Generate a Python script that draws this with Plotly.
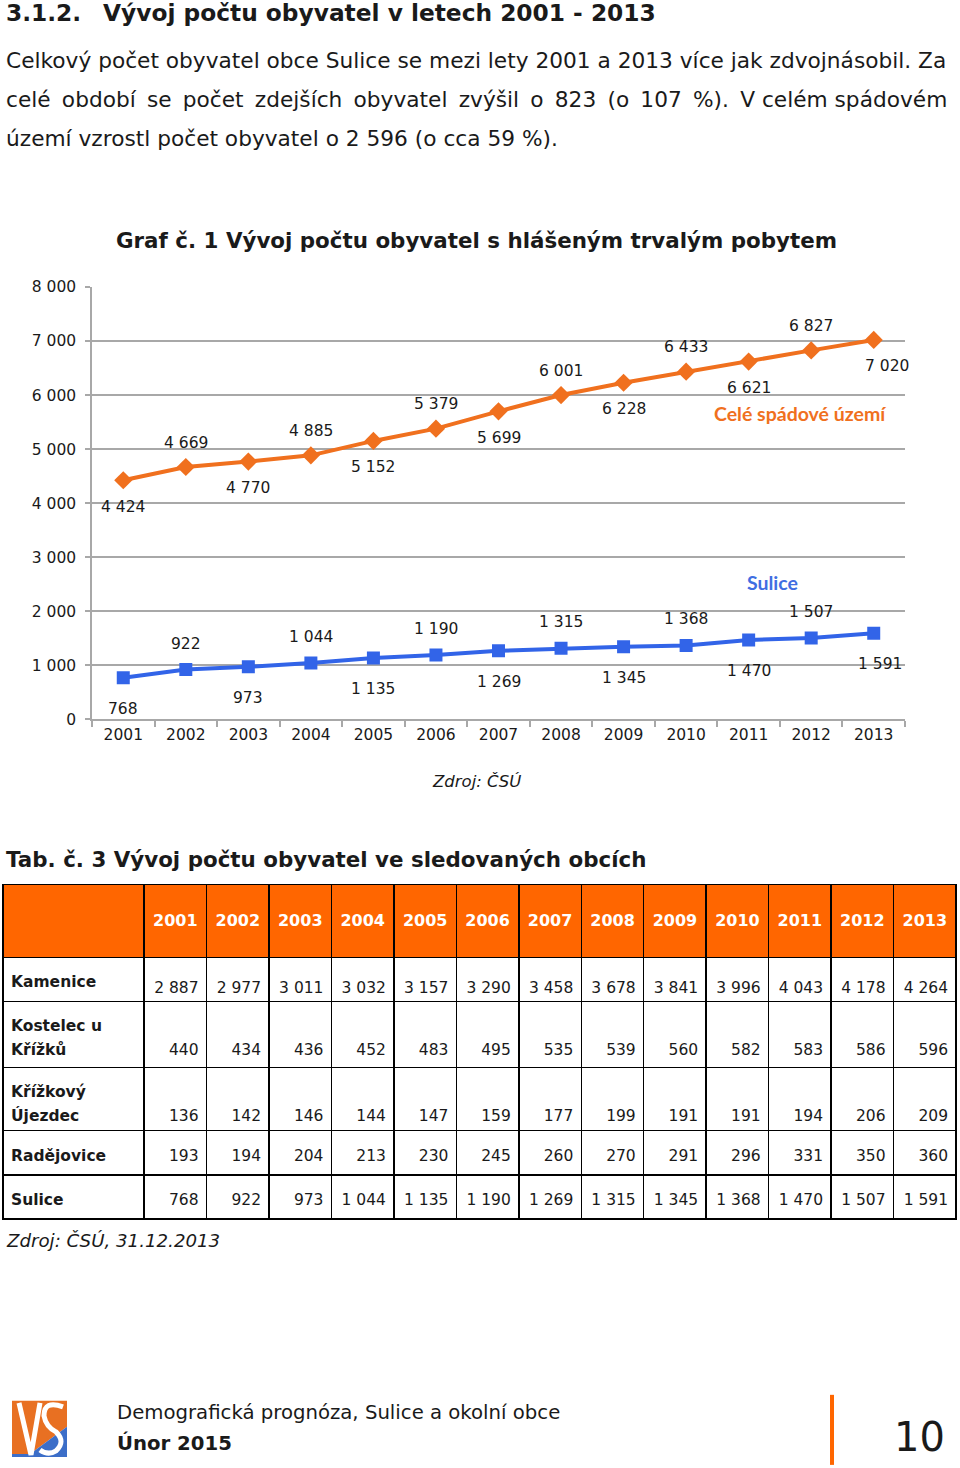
import plotly.graph_objects as go

W, H = 960, 1468

# ---------------- data ----------------
years = ["2001", "2002", "2003", "2004", "2005", "2006", "2007",
         "2008", "2009", "2010", "2011", "2012", "2013"]
spadove = [4424, 4669, 4770, 4885, 5152, 5379, 5699, 6001, 6228, 6433, 6621, 6827, 7020]
sulice = [768, 922, 973, 1044, 1135, 1190, 1269, 1315, 1345, 1368, 1470, 1507, 1591]
y_ticks = [0, 1000, 2000, 3000, 4000, 5000, 6000, 7000, 8000]

obce = ["Kamenice", "Kostelec u|Křížků", "Křížkový|Újezdec", "Radějovice", "Sulice"]
kamenice = [2887, 2977, 3011, 3032, 3157, 3290, 3458, 3678, 3841, 3996, 4043, 4178, 4264]
kostelec = [440, 434, 436, 452, 483, 495, 535, 539, 560, 582, 583, 586, 596]
krizkovy = [136, 142, 146, 144, 147, 159, 177, 199, 191, 191, 194, 206, 209]
radejovice = [193, 194, 204, 213, 230, 245, 260, 270, 291, 296, 331, 350, 360]
sulice_tab = [768, 922, 973, 1044, 1135, 1190, 1269, 1315, 1345, 1368, 1470, 1507, 1591]
table_rows = [kamenice, kostelec, krizkovy, radejovice, sulice_tab]

# ---------------- styles ----------------
FONT = "DejaVu Sans"
LBL_FONT = "Lato"
TXT = "#1a1a1a"
ORANGE = "rgb(240,112,30)"
ORANGE_HDR = "#FF6600"
BLUE = "rgb(50,100,232)"
BLUE_LBL = "rgb(64,110,226)"
GRID = "#A8A8A8"
NB = "\u00a0"


def fmt(v):
    return f"{v:,}".replace(",", NB)


def fy(y):
    # page pixel -> figure pixel (compensates page offset/scale seen in render)
    return (y - 8.2) / 0.987


def px(x):
    return x / W


def py(y):
    return 1 - fy(y) / H


fig = go.Figure()

# ---------------- chart ----------------
fig.add_trace(go.Scatter(
    x=years, y=spadove, mode="lines+markers", name="Celé spádové území",
    line=dict(color=ORANGE, width=4),
    marker=dict(symbol="diamond", size=14, color=ORANGE),
    hoverinfo="skip", showlegend=False))
fig.add_trace(go.Scatter(
    x=years, y=sulice, mode="lines+markers", name="Sulice",
    line=dict(color=BLUE, width=4),
    marker=dict(symbol="square", size=13, color=BLUE),
    hoverinfo="skip", showlegend=False))

annotations = []

# data labels (alternating below / above)
for series, up, down, last_dx in ((spadove, -24.5, 26.5, 13), (sulice, -26, 31, 6)):
    n = len(series)
    for i, v in enumerate(series):
        below = (i % 2 == 0)
        annotations.append(dict(
            x=i, y=v, xref="x", yref="y", text=fmt(v), showarrow=False,
            yshift=-down if below else -up,
            xshift=last_dx if i == n - 1 else 0,
            font=dict(family=FONT, size=15.5, color=TXT)))

# series labels
annotations.append(dict(x=10.82, y=5650, xref="x", yref="y", text="<b>Celé spádové území</b>",
                        showarrow=False, font=dict(family=LBL_FONT, size=19.5, color=ORANGE)))
annotations.append(dict(x=10.38, y=2540, xref="x", yref="y", text="<b>Sulice</b>",
                        showarrow=False, font=dict(family=LBL_FONT, size=19.5, color=BLUE_LBL)))

fig.update_xaxes(
    type="category", range=[-0.5, 12.5], domain=[px(92), px(905)],
    showline=True, linecolor=GRID, linewidth=1.5,
    ticks="outside", tickson="boundaries", ticklen=6, tickcolor=GRID, tickwidth=1.5,
    showgrid=False, tickfont=dict(family=FONT, size=15.5, color=TXT),
    anchor="y", fixedrange=True)
fig.update_yaxes(
    range=[0, 8000], domain=[py(718), py(286)],
    tickvals=y_ticks, ticktext=[fmt(v) for v in y_ticks],
    showline=True, linecolor=GRID, linewidth=1.5,
    ticks="outside", ticklen=5, tickcolor=GRID, tickwidth=1.5,
    showgrid=True, gridcolor=GRID, gridwidth=1.5, zeroline=False,
    tickfont=dict(family=FONT, size=15.5, color=TXT), ticklabelstandoff=6,
    anchor="x", fixedrange=True)

# ---------------- table ----------------
col_widths = [141] + [62.4] * len(years)
ALIGN = ["left"] + ["right"] * len(years)
BASE = 4.6                      # base font -> 6 px line step for spacer lines
SP = NB + "<br>"


def span(text, size=15.5):
    return f"<span style='font-size:{size}px'>{text}</span>"


def label_cell(name, k1, k2):
    parts = name.split("|")
    out = SP * k1 + span(f"<b>{parts[0]}</b>")
    if len(parts) > 1:
        out += "<br>" + SP * (k2 - k1 - 1) + span(f"<b>{parts[1]}</b>")
    return out


def row_values(r, k_lab, k_val, k2=7):
    two = "|" in obce[r]
    kv = k2 if two else k_val
    return [label_cell(obce[r], k_lab, k2)] + [SP * kv + span(fmt(table_rows[r][c]))
                                             for c in range(len(years))]


def table_block(header_vals, header_style, cell_vals, y_top, y_mid, y_bot):
    fig.add_trace(go.Table(
        domain=dict(x=[px(3), px(957)], y=[py(y_bot + 4), py(y_top)]),
        columnwidth=col_widths,
        header=dict(values=header_vals, height=fy(y_mid) - fy(y_top),
                    line=dict(color="black", width=1.5), **header_style),
        cells=dict(values=[[v] for v in cell_vals], height=fy(y_bot) - fy(y_mid), align=ALIGN,
                   fill_color="white", line=dict(color="black", width=1.5),
                   font=dict(family=FONT, size=BASE, color=TXT))))


hdr_orange = dict(fill_color=ORANGE_HDR, align="center",
                  font=dict(family=FONT, size=BASE, color="white"))
hdr_plain = dict(fill_color="white", align=ALIGN,
                 font=dict(family=FONT, size=BASE, color=TXT))

table_block([SP * 5 + NB] + [SP * 5 + span(f"<b>{y}</b>", 16) for y in years], hdr_orange,
            row_values(0, 3, 4), 883, 955, 1000)
table_block(row_values(1, 3, 7), hdr_plain, row_values(2, 3, 7), 1000, 1065, 1129)
table_block(row_values(3, 3, 3), hdr_plain, row_values(4, 3, 3), 1129, 1173, 1216)

# ---------------- page texts ----------------


def txt(text, x, y, size, anchor="left", color=TXT, family=FONT):
    annotations.append(dict(x=px(x), y=py(y), xref="paper", yref="paper", text=text,
                            showarrow=False, xanchor=anchor, yanchor="middle",
                            font=dict(family=family, size=size, color=color)))


TS = "\u2009"
line2 = "celé období se počet zdejších obyvatel zvýšil o 823 (o 107 %). V celém spádovém"
words2 = line2.split(" ")
line2_j = words2[0]
for k, w in enumerate(words2[1:]):
    line2_j += (" " + TS if k < 12 else " ") + w

txt("<b>3.1.2.</b>", 4, 12, 23.3)
txt("<b>Vývoj počtu obyvatel v letech 2001 - 2013</b>", 101, 12, 23.3)
txt("Celkový počet obyvatel obce Sulice se mezi lety 2001 a 2013 více jak zdvojnásobil. Za", 4, 60, 21.7)
txt(line2_j, 4, 99, 21.7)
txt("území vzrostl počet obyvatel o 2 596 (o cca 59 %).", 4, 138, 21.7)
txt("<b>Graf č. 1 Vývoj počtu obyvatel s hlášeným trvalým pobytem</b>", 476, 240, 21.4, anchor="center")
txt("<i>Zdroj: ČSÚ</i>", 476, 780, 16.5, anchor="center")
txt("<b>Tab. č. 3 Vývoj počtu obyvatel ve sledovaných obcích</b>", 4, 858, 21.4)
txt("<i>Zdroj: ČSÚ, 31.12.2013</i>", 4, 1239, 18.2)
txt("Demografická prognóza, Sulice a okolní obce", 115, 1411, 19.7)
txt("<b>Únor 2015</b>", 115, 1441, 19.7)
txt("10", 947, 1435, 40, anchor="right")

# ---------------- footer decorations ----------------


def pth(points):
    return "M " + " L ".join(f"{px(x)},{py(y)}" for x, y in points) + " Z"


shapes = [
    dict(type="line", xref="paper", yref="paper", x0=px(832), x1=px(832), y0=py(1393), y1=py(1463),
         line=dict(color=ORANGE_HDR, width=4)),
    # logo (approximation)
    dict(type="path", xref="paper", yref="paper",
         path=pth([(12, 1399), (67, 1399), (67, 1425), (30, 1452), (12, 1452)]),
         fillcolor="rgb(232,112,34)", line=dict(width=0)),
    dict(type="path", xref="paper", yref="paper",
         path=pth([(30, 1452), (67, 1425), (67, 1455), (12, 1455), (12, 1452)]),
         fillcolor="rgb(60,110,200)", line=dict(width=0)),
    dict(type="path", xref="paper", yref="paper",
         path=f"M {px(19)},{py(1401)} L {px(31)},{py(1453)} L {px(40)},{py(1401)}",
         line=dict(color="white", width=5)),
    dict(type="path", xref="paper", yref="paper",
         path=(f"M {px(63)},{py(1405)} Q {px(44)},{py(1398)} {px(44)},{py(1414)} "
               f"Q {px(46)},{py(1425)} {px(56)},{py(1430)} Q {px(66)},{py(1440)} {px(56)},{py(1449)} "
               f"Q {px(48)},{py(1454)} {px(40)},{py(1448)}"),
         line=dict(color="white", width=5)),
]

fig.update_layout(
    width=W, height=H, margin=dict(l=0, r=0, t=0, b=0),
    paper_bgcolor="white", plot_bgcolor="white",
    annotations=annotations, shapes=shapes, showlegend=False)

fig.write_html("out.html", config={"displayModeBar": False},
               post_script="document.body.style.margin='0';")
